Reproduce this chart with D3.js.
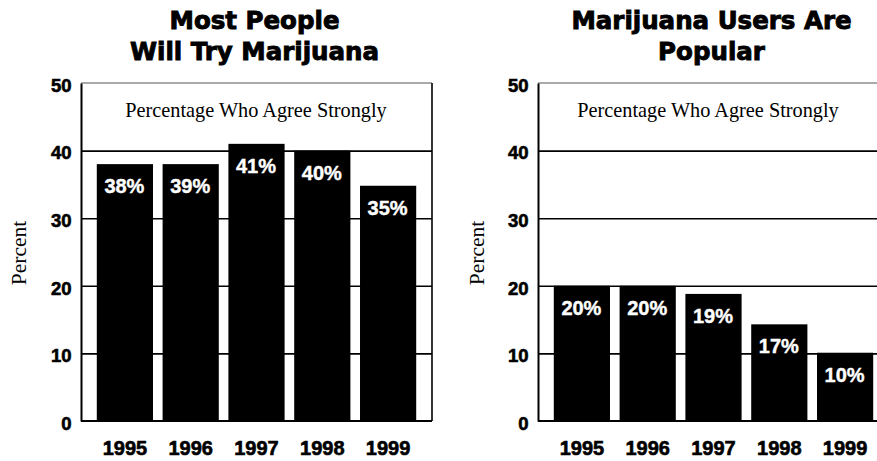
<!DOCTYPE html>
<html>
<head>
<meta charset="utf-8">
<script src="https://cdn.jsdelivr.net/npm/d3@7"></script>
<style>
  html, body { margin: 0; padding: 0; background: #fff; }
  svg { display: block; }
</style>
</head>
<body>
<svg id="chart" width="877" height="461"></svg>
<script>
// ---- data ----
const years = ["1995", "1996", "1997", "1998", "1999"];
const tryValues = [38, 38, 41, 40, 34.8];
const tryLabels = ["38%", "39%", "41%", "40%", "35%"];
const popularValues = [20, 20, 18.8, 14.3, 10.1];
const popularLabels = ["20%", "20%", "19%", "17%", "10%"];
const yTicks = [0, 10, 20, 30, 40, 50];
const titleTry = ["Most People", "Will Try Marijuana"];
const titlePopular = ["Marijuana Users Are", "Popular"];
const subtitle = "Percentage Who Agree Strongly";
const yLabel = "Percent";

const svg = d3.select("#chart");
const SANS = "'Liberation Sans', Arial, sans-serif";
const HEAVY = "'DejaVu Sans', sans-serif";
const SERIF = "'Liberation Serif', 'Times New Roman', serif";

function panel(x0, values, labels, titleLines, subX, yLabX) {
  const W = 351;
  const top = 83, bottom = 421;
  const g = svg.append("g");
  const x = d3.scaleBand().domain(years).range([x0, x0 + W])
    .paddingInner(0.146).paddingOuter(0.24);
  const y = d3.scaleLinear().domain([0, 50]).range([bottom, top]);

  // titles
  g.selectAll("text.title").data(titleLines).join("text")
    .attr("class", "title")
    .attr("x", x0 + W / 2 - 2)
    .attr("y", (d, i) => 28.5 + i * 31.5)
    .attr("text-anchor", "middle")
    .attr("font-family", HEAVY).attr("font-weight", "bold")
    .attr("font-size", 24.5).attr("fill", "#000")
    .attr("stroke", "#000").attr("stroke-width", 0.9)
    .text(d => d);

  // top frame line (thin)
  g.append("line")
    .attr("x1", x0).attr("x2", x0 + W)
    .attr("y1", y(50)).attr("y2", y(50))
    .attr("stroke", "#555").attr("stroke-width", 1);

  // gridlines
  const grid = g.append("g").attr("transform", `translate(${x0},0)`)
    .call(d3.axisLeft(y).tickValues([10, 20, 30, 40]).tickSize(-W).tickFormat(""));
  grid.select(".domain").remove();
  grid.selectAll(".tick line").attr("stroke", "#000").attr("stroke-width", 1.6);

  // right border
  g.append("line")
    .attr("x1", x0 + W).attr("x2", x0 + W)
    .attr("y1", y(50)).attr("y2", y(0))
    .attr("stroke", "#000").attr("stroke-width", 1.6);

  // subtitle
  g.append("text")
    .attr("x", x0 + subX).attr("y", 116.5)
    .attr("text-anchor", "middle")
    .attr("font-family", SERIF).attr("font-size", 20.3)
    .attr("fill", "#000")
    .text(subtitle);

  // bars
  g.selectAll("rect.bar").data(values).join("rect")
    .attr("class", "bar")
    .attr("x", (d, i) => x(years[i]))
    .attr("width", x.bandwidth())
    .attr("y", d => y(d))
    .attr("height", d => y(0) - y(d))
    .attr("fill", "#000");

  // value labels
  g.selectAll("text.val").data(values).join("text")
    .attr("class", "val")
    .attr("x", (d, i) => x(years[i]) + x.bandwidth() / 2 - 0.5)
    .attr("y", d => y(d) + 29)
    .attr("text-anchor", "middle")
    .attr("font-family", SANS).attr("font-weight", "bold")
    .attr("font-size", 20).attr("fill", "#fff")
    .attr("stroke", "#fff").attr("stroke-width", 0.4)
    .text((d, i) => labels[i]);

  // y axis
  const ya = g.append("g").attr("transform", `translate(${x0},0)`)
    .call(d3.axisLeft(y).tickValues(yTicks).tickSize(0).tickPadding(9.5));
  ya.select(".domain").attr("stroke", "#000").attr("stroke-width", 2);
  ya.selectAll("text")
    .attr("font-family", SANS).attr("font-weight", "bold")
    .attr("font-size", 18.5).attr("fill", "#000").attr("dy", "0.45em")
    .attr("stroke", "#000").attr("stroke-width", 0.6);

  // x axis
  const xa = g.append("g").attr("transform", `translate(0,${bottom})`)
    .call(d3.axisBottom(x).tickSize(0).tickPadding(20));
  xa.select(".domain").attr("stroke", "#000").attr("stroke-width", 2)
    .attr("d", `M${x0},0H${x0 + W}`);
  xa.selectAll("text")
    .attr("font-family", SANS).attr("font-weight", "bold")
    .attr("font-size", 20).attr("fill", "#000")
    .attr("stroke", "#000").attr("stroke-width", 0.6);

  // y label
  g.append("text")
    .attr("transform", `translate(${yLabX},253) rotate(-90)`)
    .attr("text-anchor", "middle")
    .attr("font-family", SERIF).attr("font-size", 21.5)
    .attr("fill", "#000")
    .text(yLabel);
}

panel(81, tryValues, tryLabels, titleTry, 175, 26);
panel(538, popularValues, popularLabels, titlePopular, 170, 483.5);
</script>
</body>
</html>
